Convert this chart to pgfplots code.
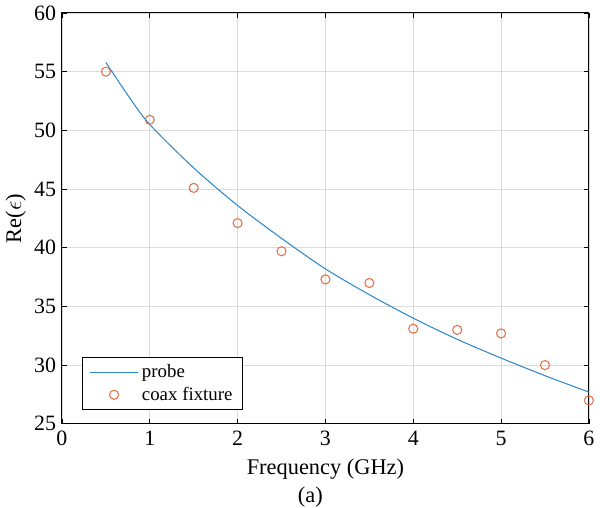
\documentclass[border=0pt]{standalone}
\usepackage{fontspec}
\setmainfont{Liberation Serif}
\usepackage{pgfplots}
\pgfplotsset{compat=1.18}

\definecolor{mblue}{rgb}{0.15,0.52,0.80}
\definecolor{morange}{rgb}{0.90,0.42,0.25}
\definecolor{mgrid}{rgb}{0.86,0.86,0.86}

\pgfplotsset{
    lineleg/.style={legend image code/.code={\draw[##1] (0cm,0cm) -- (1.0cm,0cm);}},
    markleg/.style={legend image code/.code={\draw[##1] plot coordinates {(0.5cm,0cm)};}},
}

\begin{document}
\begin{tikzpicture}
\begin{axis}[
    scale only axis,
    width=313pt, height=244pt,
    xmin=0, xmax=6, ymin=25, ymax=60,
    xtick={0,1,...,6},
    ytick={25,30,...,60},
    tick align=inside,
    major tick length=3pt,
    tick style={black, line width=0.5pt},
    axis line style={black, line width=0.6pt},
    grid=major,
    major grid style={mgrid, line width=0.5pt},
    /pgf/number format/assume math mode=true,
    ticklabel style={font=\fontsize{13}{15}\selectfont},
    xticklabel style={yshift=-1pt},
    xlabel={Frequency (GHz)},
    ylabel={Re($\epsilon$)},
    label style={font=\fontsize{13.3}{15}\selectfont},
    xlabel style={name=xl, yshift=-0.5pt},
    ylabel style={yshift=-2pt},
    legend style={
        at={(0.039,0.034)}, anchor=south west,
        draw=black, line width=0.5pt,
        font=\fontsize{11.2}{13}\selectfont,
        row sep=0pt, inner ysep=2pt, inner xsep=4pt,
    },
    legend cell align=left,
]
\addplot[mblue, line width=0.6pt, smooth, lineleg] coordinates {
    (0.5,55.8) (0.75,53.0) (1,50.5) (1.5,46.8) (2,43.6) (2.5,40.8)
    (3,38.2) (3.5,36.0) (4,34.0) (4.5,32.2) (5,30.6) (5.5,29.1) (6,27.7)
};
\addlegendentry{probe}
\addplot[only marks, mark=o, mark size=2.7pt, morange, line width=0.6pt, markleg]
coordinates {
    (0.5,55.0) (1,50.9) (1.5,45.1) (2,42.1) (2.5,39.7) (3,37.3)
    (3.5,37.0) (4,33.1) (4.5,33.0) (5,32.7) (5.5,30.0) (6,27.0)
};
\addlegendentry{coax fixture}
\end{axis}
\node[anchor=north, inner sep=0pt, font=\fontsize{13.3}{15}\selectfont] at ([xshift=-9pt,yshift=-1pt]xl.south) {(a)};
\end{tikzpicture}
\end{document}
